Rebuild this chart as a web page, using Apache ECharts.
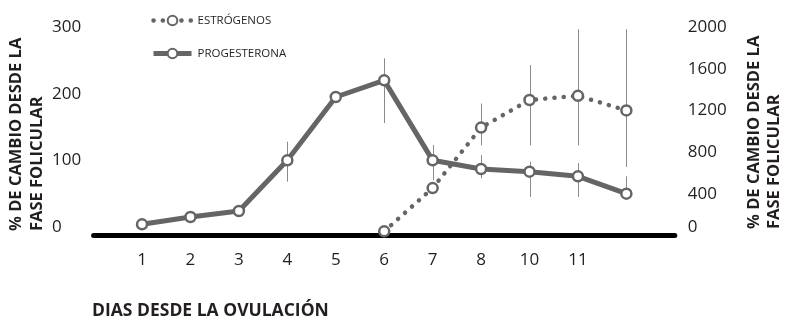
<!DOCTYPE html>
<html>
<head>
<meta charset="utf-8">
<script src="https://cdn.jsdelivr.net/npm/echarts@6/dist/echarts.min.js"></script>
<style>
  html, body { margin: 0; padding: 0; background: #fff; }
  #chart { width: 786px; height: 320px; }
</style>
</head>
<body>
<div id="chart"></div>
<script>
// Day categories (first and last two slots are unlabelled padding / final sample)
const dayLabels = ['', '1', '2', '3', '4', '5', '6', '7', '8', '10', '11', '', ''];

// Progesterone, % change from follicular phase (left axis)
const progesterone = [null, 4, 15, 24, 100, 195, 220, 100, 87, 83, 76, 50, null];
const progLow      = [null, null, null, null, 68, null, 156, 70, 73, 45, 45, 51, null];
const progHigh     = [null, null, null, null, 128, null, 253, 123, 108, 98, 96, 76, null];

// Estrogens, % change from follicular phase (right axis)
const estrogens = [null, null, null, null, null, null, 40, 455, 1035, 1300, 1340, 1200, null];
const estroLow  = [null, null, null, null, null, null, null, null, 865, 865, 865, 657, null];
const estroHigh = [null, null, null, null, null, null, null, null, 1266, 1635, 1978, 1978, null];

const leftTicks = [0, 100, 200, 300];
const rightTicks = [0, 400, 800, 1200, 1600, 2000];

const GRAY = '#656565';
const TEXT = '#231f20';
const FONT = '"Open Sans", "Noto Sans", sans-serif';
const DOTS = [0.1, 9.2];

function errorBars(low, high, axisIndex) {
  const data = [];
  low.forEach((v, i) => { if (v != null) data.push([i, v, high[i]]); });
  return {
    type: 'custom',
    yAxisIndex: axisIndex,
    z: 1,
    silent: true,
    data: data,
    encode: { x: 0, y: [1, 2] },
    renderItem(params, api) {
      const a = api.coord([api.value(0), api.value(1)]);
      const b = api.coord([api.value(0), api.value(2)]);
      const x = Math.round(a[0]) + 0.5;
      return {
        type: 'line',
        shape: { x1: x, y1: a[1], x2: x, y2: b[1] },
        style: { stroke: '#8a8a8a', lineWidth: 1 }
      };
    }
  };
}

const chart = echarts.init(document.getElementById('chart'), null, { renderer: 'canvas' });

chart.setOption({
  animation: false,
  backgroundColor: '#fff',
  grid: { left: 93.6, right: 111.2, top: 27, bottom: 84.5, containLabel: false },
  legend: {
    orient: 'vertical',
    left: 146,
    top: 9.5,
    itemWidth: 38,
    itemHeight: 12,
    itemGap: 21,
    data: [
      { name: 'ESTRÓGENOS', lineStyle: { width: 4.5, type: DOTS, cap: 'round', color: GRAY } },
      { name: 'PROGESTERONA', lineStyle: { width: 5, cap: 'butt', color: GRAY } }
    ],
    textStyle: { fontFamily: FONT, fontSize: 11.5, color: TEXT, lineHeight: 12, padding: [0, 0, 0, 1] }
  },
  xAxis: {
    type: 'category',
    boundaryGap: false,
    data: dayLabels,
    axisLine: { onZero: false, lineStyle: { color: '#000', width: 5 } },
    axisTick: { show: false },
    axisLabel: { fontFamily: FONT, fontSize: 17, color: TEXT, margin: 16, interval: 0 },
    splitLine: { show: false }
  },
  yAxis: [
    {
      type: 'value',
      min: -12.75,
      max: 300,
      axisLine: { show: false },
      axisTick: { show: false },
      splitLine: { show: false },
      axisLabel: {
        customValues: leftTicks,
        align: 'left',
        margin: 41.6,
        fontFamily: FONT, fontSize: 17, color: TEXT
      }
    },
    {
      type: 'value',
      position: 'right',
      min: 0,
      max: 2000,
      interval: 400,
      axisLine: { show: false },
      axisTick: { show: false },
      splitLine: { show: false },
      axisLabel: {
        customValues: rightTicks,
        margin: 13,
        lineHeight: 17,
        fontFamily: FONT, fontSize: 17, color: TEXT,
        // lift the zero label so it sits above the base line
        formatter: v => (v === 0 ? '0\n' : String(v))
      }
    }
  ],
  graphic: [
    {
      type: 'text', x: 6, y: 231, rotation: Math.PI / 2,
      style: {
        text: '% DE CAMBIO DESDE LA\nFASE FOLICULAR',
        fontFamily: FONT, fontSize: 16.5, fontWeight: 'bold', fill: TEXT,
        lineHeight: 21, align: 'left', verticalAlign: 'top',
        textAlign: 'left', textVerticalAlign: 'top'
      }
    },
    {
      type: 'text', x: 744, y: 229, rotation: Math.PI / 2,
      style: {
        text: '% DE CAMBIO DESDE LA\nFASE FOLICULAR',
        fontFamily: FONT, fontSize: 16.5, fontWeight: 'bold', fill: TEXT,
        lineHeight: 20, align: 'left', verticalAlign: 'top',
        textAlign: 'left', textVerticalAlign: 'top'
      }
    },
    {
      type: 'text', x: 92, y: 311,
      style: {
        text: 'DIAS DESDE LA OVULACIÓN',
        fontFamily: FONT, fontSize: 17.5, fontWeight: 'bold', fill: TEXT,
        align: 'left', verticalAlign: 'middle',
        textAlign: 'left', textVerticalAlign: 'middle'
      }
    }
  ],
  series: [
    errorBars(progLow, progHigh, 0),
    errorBars(estroLow, estroHigh, 1),
    {
      name: 'ESTRÓGENOS',
      type: 'line',
      yAxisIndex: 1,
      data: estrogens,
      clip: false,
      z: 3,
      symbol: 'circle',
      symbolSize: 10,
      lineStyle: { color: GRAY, width: 4.5, type: DOTS, cap: 'round' },
      itemStyle: { color: '#fff', borderColor: GRAY, borderWidth: 2.5 }
    },
    {
      name: 'PROGESTERONA',
      type: 'line',
      yAxisIndex: 0,
      data: progesterone,
      clip: false,
      z: 4,
      symbol: 'circle',
      symbolSize: 10,
      lineStyle: { color: GRAY, width: 5, cap: 'round', join: 'round' },
      itemStyle: { color: '#fff', borderColor: GRAY, borderWidth: 2.5 }
    }
  ]
});
</script>
</body>
</html>
